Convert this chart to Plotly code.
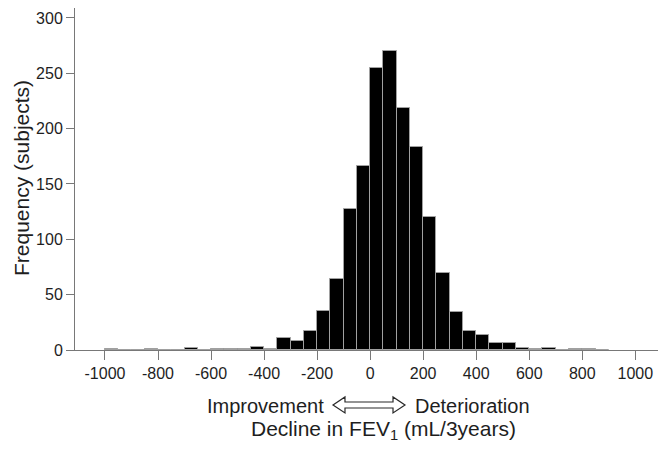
import plotly.graph_objects as go

# histogram of FEV1 decline, 50 mL bins (left edges) and counts
bin_left = list(range(-1000, 900, 50))
counts = [1, 0, 0, 1, 0, 0, 2, 0, 1, 1, 1, 3, 1, 11, 8, 17, 35, 64, 127, 166,
          255, 270, 219, 183, 120, 70, 34, 17, 14, 6, 6, 2, 1, 2, 0, 1, 1, 0]
bin_width = 50
x_ticks = list(range(-1000, 1001, 200))
y_ticks = list(range(0, 301, 50))

# page is drawn with the browser's 8px body margin, so size the figure to fit
OFF = 8
W, H = 666 - OFF, 450 - OFF
ML, MR, MT, MB = 67, 1, 0, 100
FONT = "Arial, Liberation Sans, sans-serif"
AXIS_GREY = "rgb(120,120,120)"
TEXT_COL = "rgb(30,30,30)"

centers = [b + bin_width / 2 for b in bin_left]


def px_to_paper(px, py):
    """page pixel position -> paper coords (used for the labels and the arrow)"""
    fx, fy = px - OFF, py - OFF
    return (fx - ML) / (W - ML - MR), (H - MB - fy) / (H - MT - MB)


fig = go.Figure()
fig.add_trace(go.Bar(
    x=centers, y=counts, width=bin_width,
    marker=dict(color="black", line=dict(color="rgb(160,160,160)", width=1)),
    hoverinfo="x+y",
))

# hollow double arrow between Improvement / Deterioration
pts = [(333, 405), (345, 397), (345, 402), (393, 402), (393, 397), (405, 405),
       (393, 413), (393, 408), (345, 408), (345, 413)]
pp = [px_to_paper(*p) for p in pts]
path = "M " + " L ".join(f"{x:.4f},{y:.4f}" for x, y in pp) + " Z"
fig.add_shape(type="path", path=path, xref="paper", yref="paper",
              line=dict(color="rgb(40,40,40)", width=1.2), fillcolor="white")

txt = dict(family=FONT, size=20, color=TEXT_COL)
big = dict(family=FONT, size=21, color=TEXT_COL)
xi, yi = px_to_paper(265, 406)
fig.add_annotation(text="Improvement", x=xi, y=yi, xref="paper", yref="paper",
                   showarrow=False, font=txt, xanchor="center", yanchor="middle")
xd, _ = px_to_paper(472, 406)
fig.add_annotation(text="Deterioration", x=xd, y=yi, xref="paper", yref="paper",
                   showarrow=False, font=txt, xanchor="center", yanchor="middle")
xt, yt = px_to_paper(383, 430)
fig.add_annotation(text="Decline in FEV<sub>1</sub> (mL/3years)", x=xt, y=yt,
                   xref="paper", yref="paper", showarrow=False, font=big,
                   xanchor="center", yanchor="middle")
xy, yy = px_to_paper(21, 178)
fig.add_annotation(text="Frequency (subjects)", x=xy, y=yy, xref="paper", yref="paper",
                   showarrow=False, font=big, textangle=-90,
                   xanchor="center", yanchor="middle")

fig.update_layout(
    width=W, height=H,
    margin=dict(l=ML, r=MR, t=MT, b=MB),
    paper_bgcolor="white", plot_bgcolor="white",
    showlegend=False, bargap=0,
    font=dict(family=FONT, size=16, color=TEXT_COL),
)
fig.update_xaxes(
    range=[-1113, 1112], tickvals=x_ticks, ticktext=[str(v) for v in x_ticks],
    showgrid=False, zeroline=False,
    showline=True, linecolor=AXIS_GREY, linewidth=1,
    ticks="outside", ticklen=9, tickcolor=AXIS_GREY, tickwidth=1,
    tickfont=dict(family=FONT, size=16, color=TEXT_COL),
)
fig.update_yaxes(
    range=[0, 309], tickvals=y_ticks,
    showgrid=False, zeroline=False,
    showline=True, linecolor=AXIS_GREY, linewidth=1,
    ticks="outside", ticklen=8, tickcolor=AXIS_GREY, tickwidth=1,
    tickfont=dict(family=FONT, size=16, color=TEXT_COL),
)

fig.write_html("out.html")
